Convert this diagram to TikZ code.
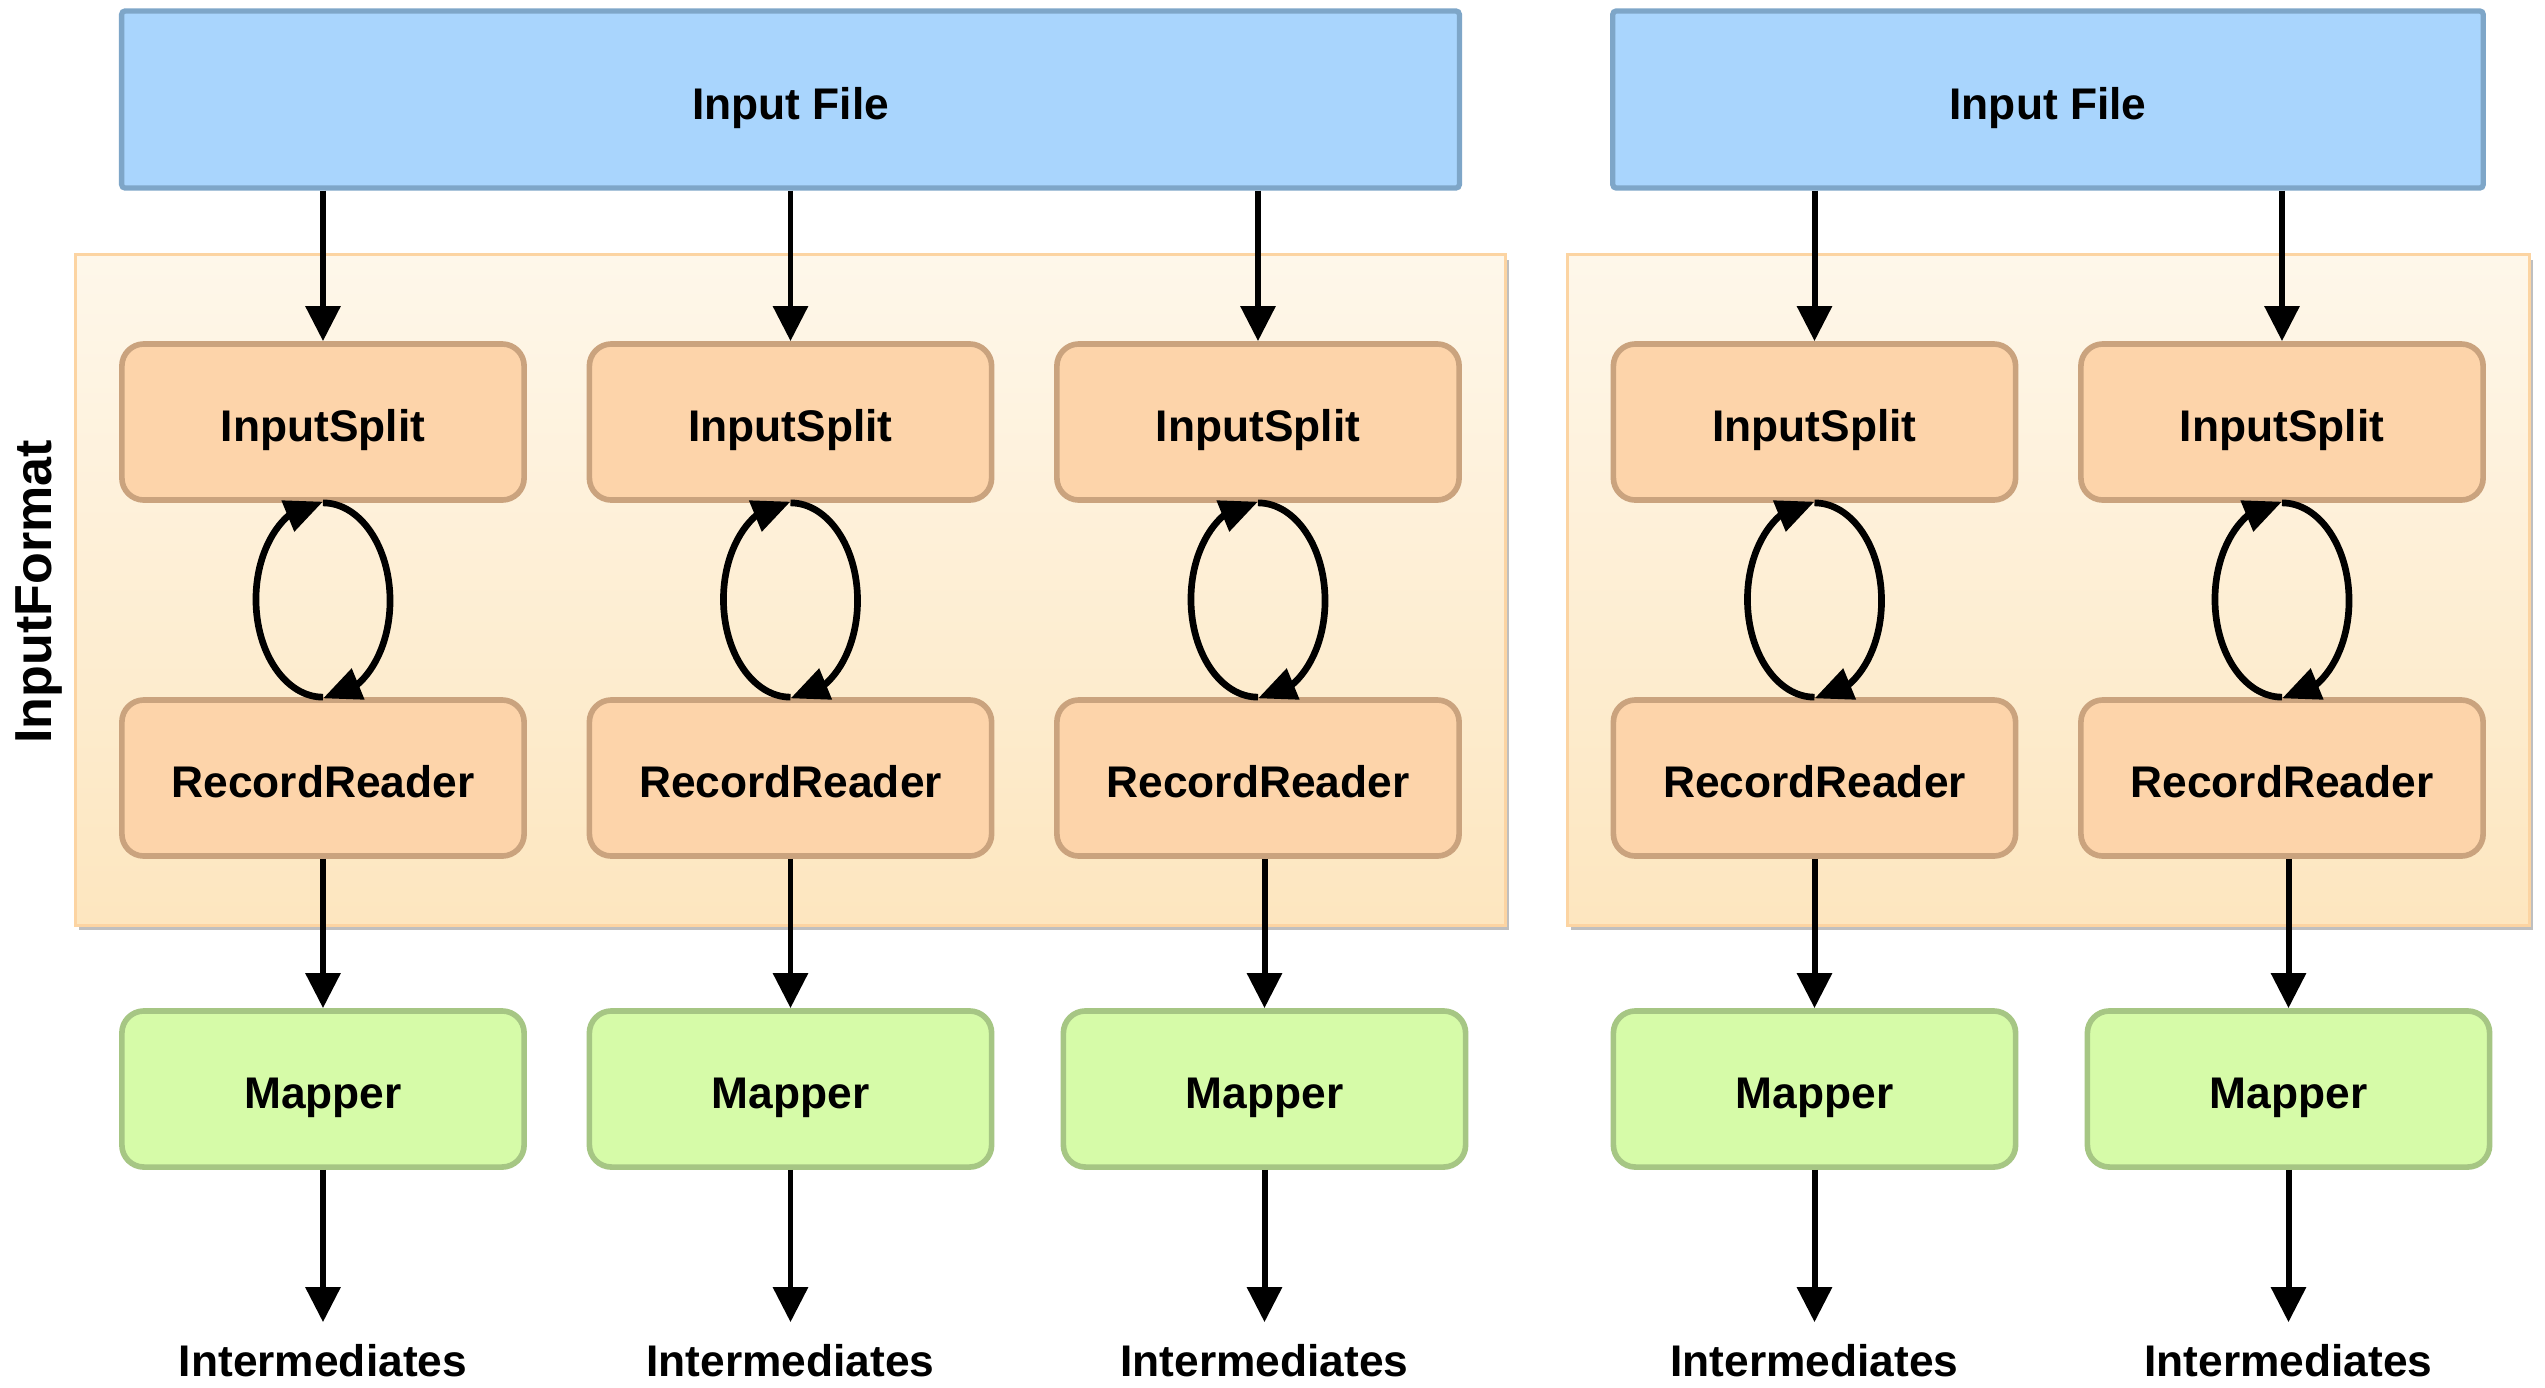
\documentclass[tikz,border=0pt]{standalone}
\usepackage{fontspec}
\setmainfont{Liberation Sans}
\usetikzlibrary{arrows.meta,bending,shadows}

\definecolor{bluefill}{RGB}{169,213,253}
\definecolor{blueline}{RGB}{126,166,200}
\definecolor{orfill}{RGB}{253,212,170}
\definecolor{orline}{RGB}{202,163,126}
\definecolor{grfill}{RGB}{214,251,168}
\definecolor{grline}{RGB}{166,198,132}
\definecolor{paneltop}{RGB}{254,247,234}
\definecolor{panelbot}{RGB}{253,230,191}
\definecolor{panelline}{RGB}{252,212,162}

\tikzset{
  txt/.style={font=\fontsize{12.6}{15}\selectfont\bfseries},
  boxtxt/.style={txt, text height=0.40cm, text depth=0.01cm},
  filebox/.style={boxtxt, draw=blueline, fill=bluefill, line width=1.5pt, rounded corners=1pt, minimum height=1.77cm},
  panelbox/.style={draw=panelline, line width=0.8pt, top color=paneltop, bottom color=panelbot,
     drop shadow={shadow xshift=0.35mm, shadow yshift=-0.5mm, opacity=0.25, fill=black}},
  splitbox/.style={boxtxt, draw=orline, fill=orfill, line width=1.6pt, rounded corners=0.22cm, minimum width=4.02cm, minimum height=1.56cm},
  mapbox/.style={boxtxt, draw=grline, fill=grfill, line width=1.6pt, rounded corners=0.22cm, minimum width=4.02cm, minimum height=1.56cm},
  arr/.style={line width=1.7pt, -{Triangle[length=0.35cm, width=0.34cm]}},
  looparr/.style={line width=1.9pt, -{Triangle[flex, length=0.38cm, width=0.32cm]}},
}

\begin{document}
\begin{tikzpicture}[x=0.01cm, y=-0.01cm]
\useasboundingbox[fill=white] (0,0) rectangle (2545,1387);

% panels
\node[panelbox, minimum width=14.29cm, minimum height=6.70cm] (panelL) at (790.5,590) {};
\node[panelbox, minimum width=9.61cm, minimum height=6.70cm] (panelR) at (2048.5,590) {};

% input files
\node[filebox, minimum width=13.37cm] (fileL) at (790.5,99.5) {Input File};
\node[filebox, minimum width=8.70cm] (fileR) at (2048,99.5) {Input File};

% InputFormat label
\node[font=\fontsize{14.8}{17}\selectfont\bfseries, rotate=90] (fmt) at (39,592) {InputFormat};

\foreach \n/\x/\mx/\f in {A/323/323/fileL, B/790.5/790.5/fileL, C/1258/1264.5/fileL, D/1814.5/1814.5/fileR, E/2282/2288.5/fileR}{
  \node[splitbox] (is\n) at (\x,422) {InputSplit};
  \node[splitbox] (rr\n) at (\x,778) {RecordReader};
  \node[mapbox] (map\n) at (\mx,1089) {Mapper};
  \node[txt, inner sep=0pt, anchor=base] (int\n) at (\mx,1376) {Intermediates};
  \draw[arr] (is\n.north |- \f.south) -- (is\n.north);
  \draw[looparr] (rr\n.north) arc[start angle=270, end angle=90, x radius=0.67cm, y radius=0.977cm];
  \draw[looparr] (is\n.south) arc[start angle=90, end angle=-90, x radius=0.67cm, y radius=0.977cm];
  \draw[arr] (map\n.north |- rr\n.south) -- (map\n.north);
  \draw[arr] (map\n.south) -- ([yshift=0.21cm]int\n.north);
}
\end{tikzpicture}
\end{document}
